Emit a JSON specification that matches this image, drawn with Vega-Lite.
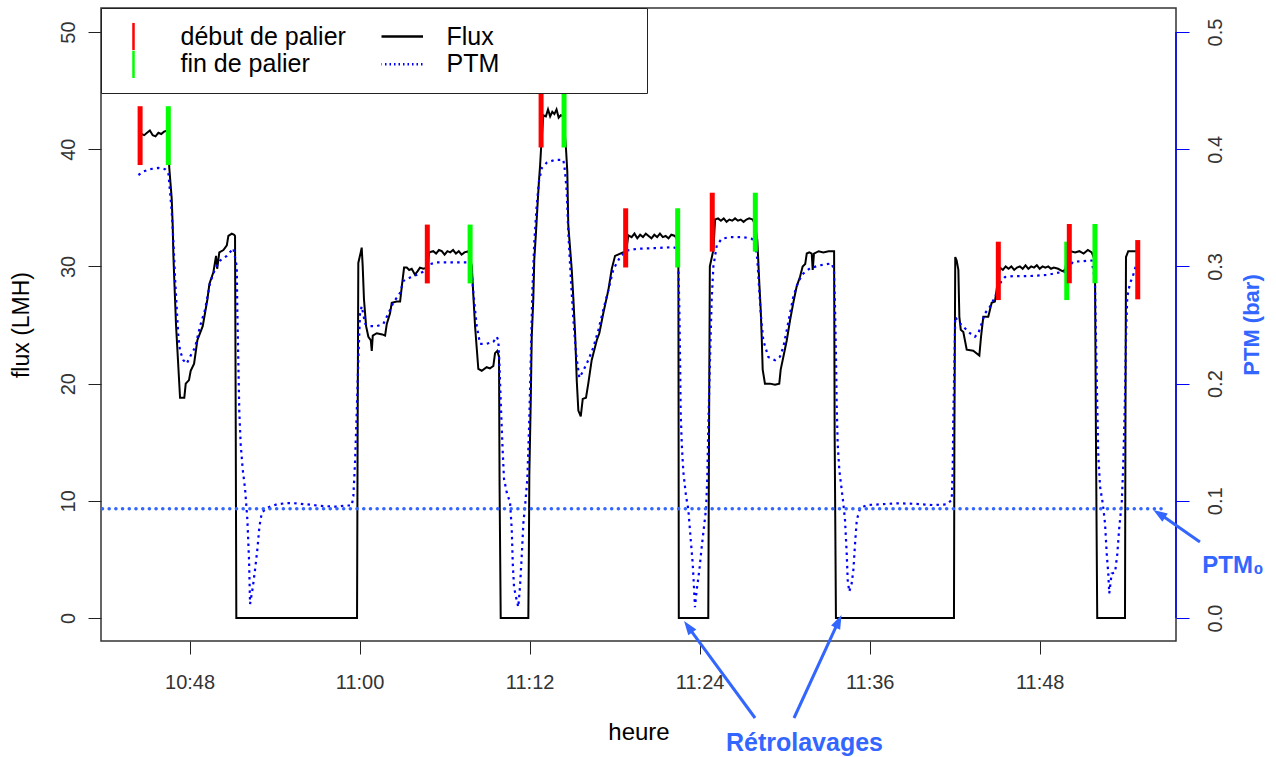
{
  "$schema": "https://vega.github.io/schema/vega-lite/v6.json",
  "width": 1075,
  "height": 633,
  "autosize": {"type": "none"},
  "padding": {"left": 101, "top": 8, "right": 100, "bottom": 116},
  "background": "white",
  "config": {
    "font": "Liberation Sans",
    "view": {"stroke": "#333", "strokeWidth": 1.5},
    "axis": {"grid": false},
    "legend": {
      "orient": "top-left",
      "offset": 0,
      "columns": 2,
      "fillColor": "white",
      "strokeColor": "#222",
      "padding": 14.5,
      "symbolSize": 2209,
      "symbolStrokeWidth": 2.5,
      "symbolOpacity": 1,
      "symbolOffset": -7,
      "labelFontSize": 25,
      "labelColor": "black",
      "labelOffset": 22,
      "labelLimit": 400,
      "columnPadding": 35,
      "rowPadding": 0,
      "clipHeight": 27.5,
      "titleOrient": "right",
      "titlePadding": 133,
      "titleFontSize": 22
    }
  },
  "datasets": {
    "one": [{"n": 1}],
    "note": [{"note": "Rétrolavages"}],
    "note0": [{"note": "PTM₀"}],
    "flux": [
      {"t": 44.60, "flux": 41.3}, {"t": 44.80, "flux": 41.2}, {"t": 45.00, "flux": 41.4}, {"t": 45.20, "flux": 41.6},
      {"t": 45.40, "flux": 41.2}, {"t": 45.60, "flux": 41.1}, {"t": 45.80, "flux": 41.4}, {"t": 46.00, "flux": 41.3},
      {"t": 46.20, "flux": 41.5}, {"t": 46.45, "flux": 41.6}, {"t": 46.57, "flux": 38.4}, {"t": 46.74, "flux": 35.8},
      {"t": 46.81, "flux": 33.5}, {"t": 46.86, "flux": 30.9}, {"t": 46.93, "flux": 28.6}, {"t": 47.05, "flux": 24.9},
      {"t": 47.21, "flux": 21.4}, {"t": 47.33, "flux": 18.8}, {"t": 47.63, "flux": 18.8}, {"t": 47.73, "flux": 20.0},
      {"t": 47.96, "flux": 20.3}, {"t": 48.08, "flux": 21.1}, {"t": 48.32, "flux": 21.7}, {"t": 48.55, "flux": 23.7},
      {"t": 48.93, "flux": 24.9}, {"t": 49.26, "flux": 27.2}, {"t": 49.40, "flux": 28.5}, {"t": 49.68, "flux": 29.5},
      {"t": 49.87, "flux": 30.9}, {"t": 49.95, "flux": 29.8}, {"t": 50.10, "flux": 31.2}, {"t": 50.39, "flux": 31.4},
      {"t": 50.63, "flux": 31.8}, {"t": 50.74, "flux": 32.6}, {"t": 50.98, "flux": 32.8}, {"t": 51.15, "flux": 32.7},
      {"t": 51.21, "flux": 32.6}, {"t": 51.26, "flux": 16.2}, {"t": 51.30, "flux": 0},
      {"t": 59.82, "flux": 0}, {"t": 59.86, "flux": 15.0}, {"t": 59.91, "flux": 30.3}, {"t": 60.08, "flux": 31.2},
      {"t": 60.15, "flux": 31.6}, {"t": 60.22, "flux": 30.0}, {"t": 60.31, "flux": 27.2}, {"t": 60.46, "flux": 24.9},
      {"t": 60.62, "flux": 24.0}, {"t": 60.79, "flux": 23.7}, {"t": 60.86, "flux": 22.8}, {"t": 60.93, "flux": 24.1},
      {"t": 61.21, "flux": 24.3}, {"t": 61.60, "flux": 24.2}, {"t": 61.80, "flux": 24.1}, {"t": 61.92, "flux": 25.1},
      {"t": 62.15, "flux": 26.0}, {"t": 62.27, "flux": 26.9}, {"t": 62.62, "flux": 27.0}, {"t": 62.86, "flux": 27.0},
      {"t": 62.98, "flux": 28.3}, {"t": 63.14, "flux": 29.9}, {"t": 63.33, "flux": 29.9}, {"t": 63.50, "flux": 29.7},
      {"t": 63.68, "flux": 29.8}, {"t": 63.91, "flux": 29.3}, {"t": 64.10, "flux": 29.6}, {"t": 64.26, "flux": 29.9},
      {"t": 64.50, "flux": 29.8}, {"t": 64.78, "flux": 29.9}, {"t": 64.92, "flux": 31.2}, {"t": 65.20, "flux": 31.3},
      {"t": 65.40, "flux": 31.1}, {"t": 65.60, "flux": 31.4}, {"t": 65.80, "flux": 31.3}, {"t": 66.00, "flux": 31.0},
      {"t": 66.20, "flux": 31.3}, {"t": 66.40, "flux": 31.2}, {"t": 66.60, "flux": 31.4}, {"t": 66.80, "flux": 31.1},
      {"t": 67.00, "flux": 31.3}, {"t": 67.20, "flux": 31.0}, {"t": 67.40, "flux": 31.2}, {"t": 67.68, "flux": 31.3},
      {"t": 67.92, "flux": 30.05}, {"t": 68.03, "flux": 27.5}, {"t": 68.15, "flux": 24.9}, {"t": 68.27, "flux": 23.0},
      {"t": 68.38, "flux": 21.25}, {"t": 68.62, "flux": 21.1}, {"t": 68.97, "flux": 21.4}, {"t": 69.20, "flux": 21.3},
      {"t": 69.44, "flux": 21.5}, {"t": 69.56, "flux": 22.6}, {"t": 69.72, "flux": 22.8}, {"t": 69.84, "flux": 22.3},
      {"t": 69.88, "flux": 11.3}, {"t": 69.96, "flux": 0},
      {"t": 71.91, "flux": 0}, {"t": 71.95, "flux": 6.1}, {"t": 71.98, "flux": 12.2}, {"t": 72.08, "flux": 18.5},
      {"t": 72.15, "flux": 24.0}, {"t": 72.26, "flux": 27.2}, {"t": 72.33, "flux": 30.6}, {"t": 72.45, "flux": 32.9},
      {"t": 72.57, "flux": 35.5}, {"t": 72.66, "flux": 37.3}, {"t": 72.74, "flux": 38.6}, {"t": 72.81, "flux": 40.1},
      {"t": 72.97, "flux": 42.9}, {"t": 73.15, "flux": 42.8}, {"t": 73.30, "flux": 43.4}, {"t": 73.45, "flux": 42.8},
      {"t": 73.60, "flux": 43.2}, {"t": 73.75, "flux": 43.0}, {"t": 73.90, "flux": 43.4}, {"t": 74.05, "flux": 42.7},
      {"t": 74.20, "flux": 42.9}, {"t": 74.40, "flux": 42.8}, {"t": 74.57, "flux": 40.0}, {"t": 74.66, "flux": 38.1},
      {"t": 74.73, "flux": 33.5}, {"t": 74.97, "flux": 29.8}, {"t": 75.09, "flux": 27.2}, {"t": 75.21, "flux": 24.3},
      {"t": 75.33, "flux": 20.2}, {"t": 75.44, "flux": 17.7}, {"t": 75.61, "flux": 17.2}, {"t": 75.75, "flux": 18.7},
      {"t": 75.98, "flux": 18.8}, {"t": 76.14, "flux": 20.0}, {"t": 76.38, "flux": 22.0}, {"t": 76.74, "flux": 23.7},
      {"t": 76.92, "flux": 24.3}, {"t": 77.20, "flux": 26.0}, {"t": 77.56, "flux": 28.0}, {"t": 77.80, "flux": 29.8},
      {"t": 78.03, "flux": 30.9}, {"t": 78.61, "flux": 31.2}, {"t": 78.80, "flux": 31.2}, {"t": 78.97, "flux": 32.65},
      {"t": 79.20, "flux": 32.5}, {"t": 79.40, "flux": 32.8}, {"t": 79.60, "flux": 32.4}, {"t": 79.80, "flux": 32.7},
      {"t": 80.00, "flux": 32.5}, {"t": 80.20, "flux": 32.8}, {"t": 80.40, "flux": 32.6}, {"t": 80.60, "flux": 32.4},
      {"t": 80.80, "flux": 32.7}, {"t": 81.00, "flux": 32.5}, {"t": 81.20, "flux": 32.8}, {"t": 81.40, "flux": 32.5},
      {"t": 81.60, "flux": 32.6}, {"t": 81.80, "flux": 32.4}, {"t": 82.00, "flux": 32.7}, {"t": 82.26, "flux": 32.6},
      {"t": 82.45, "flux": 32.2}, {"t": 82.50, "flux": 30.0}, {"t": 82.53, "flux": 0},
      {"t": 84.61, "flux": 0}, {"t": 84.66, "flux": 15.0}, {"t": 84.72, "flux": 30.0}, {"t": 84.97, "flux": 31.4},
      {"t": 85.09, "flux": 34.0}, {"t": 85.30, "flux": 34.1}, {"t": 85.50, "flux": 33.9}, {"t": 85.70, "flux": 34.1},
      {"t": 85.90, "flux": 33.8}, {"t": 86.10, "flux": 34.0}, {"t": 86.30, "flux": 33.9}, {"t": 86.50, "flux": 34.1},
      {"t": 86.70, "flux": 33.9}, {"t": 86.90, "flux": 34.0}, {"t": 87.10, "flux": 33.8}, {"t": 87.30, "flux": 34.0},
      {"t": 87.50, "flux": 34.1}, {"t": 87.75, "flux": 34.0}, {"t": 87.93, "flux": 33.5}, {"t": 88.07, "flux": 32.25},
      {"t": 88.21, "flux": 28.6}, {"t": 88.31, "flux": 26.3}, {"t": 88.38, "flux": 24.0}, {"t": 88.45, "flux": 21.2},
      {"t": 88.61, "flux": 20.0}, {"t": 88.97, "flux": 20.0}, {"t": 89.32, "flux": 19.9}, {"t": 89.62, "flux": 20.0},
      {"t": 89.72, "flux": 21.2}, {"t": 89.91, "flux": 22.3}, {"t": 90.15, "flux": 23.7}, {"t": 90.38, "flux": 25.4},
      {"t": 90.61, "flux": 26.9}, {"t": 90.85, "flux": 28.3}, {"t": 91.08, "flux": 29.1}, {"t": 91.27, "flux": 30.0},
      {"t": 91.45, "flux": 30.2}, {"t": 91.56, "flux": 31.1}, {"t": 91.74, "flux": 31.2}, {"t": 91.91, "flux": 31.1},
      {"t": 91.98, "flux": 29.7}, {"t": 92.07, "flux": 31.1}, {"t": 92.40, "flux": 31.3}, {"t": 92.73, "flux": 31.2},
      {"t": 93.10, "flux": 31.3}, {"t": 93.49, "flux": 31.3}, {"t": 93.53, "flux": 15.5}, {"t": 93.62, "flux": 0},
      {"t": 101.95, "flux": 0}, {"t": 101.98, "flux": 15.5}, {"t": 102.04, "flux": 30.8}, {"t": 102.14, "flux": 30.5},
      {"t": 102.26, "flux": 29.7}, {"t": 102.33, "flux": 25.7}, {"t": 102.43, "flux": 24.6}, {"t": 102.61, "flux": 24.4},
      {"t": 102.85, "flux": 22.9}, {"t": 103.31, "flux": 22.8}, {"t": 103.74, "flux": 22.4}, {"t": 103.86, "flux": 24.0},
      {"t": 104.02, "flux": 25.7}, {"t": 104.37, "flux": 25.7}, {"t": 104.61, "flux": 26.9}, {"t": 104.84, "flux": 27.0},
      {"t": 104.96, "flux": 28.0}, {"t": 105.10, "flux": 29.3}, {"t": 105.20, "flux": 29.9}, {"t": 105.40, "flux": 29.7},
      {"t": 105.60, "flux": 30.0}, {"t": 105.80, "flux": 29.8}, {"t": 106.00, "flux": 30.0}, {"t": 106.20, "flux": 29.7},
      {"t": 106.40, "flux": 29.9}, {"t": 106.60, "flux": 30.0}, {"t": 106.80, "flux": 29.8}, {"t": 107.00, "flux": 30.1},
      {"t": 107.20, "flux": 29.8}, {"t": 107.40, "flux": 30.0}, {"t": 107.60, "flux": 29.9}, {"t": 107.80, "flux": 30.1},
      {"t": 108.00, "flux": 29.8}, {"t": 108.20, "flux": 30.0}, {"t": 108.40, "flux": 29.9}, {"t": 108.60, "flux": 30.0},
      {"t": 108.80, "flux": 29.8}, {"t": 109.00, "flux": 29.9}, {"t": 109.30, "flux": 29.8}, {"t": 109.60, "flux": 29.6},
      {"t": 109.80, "flux": 29.7}, {"t": 110.00, "flux": 31.2}, {"t": 110.20, "flux": 31.3}, {"t": 110.50, "flux": 31.2},
      {"t": 110.80, "flux": 31.3}, {"t": 111.10, "flux": 31.1}, {"t": 111.40, "flux": 31.4}, {"t": 111.67, "flux": 31.2},
      {"t": 111.90, "flux": 30.5}, {"t": 111.97, "flux": 15.5}, {"t": 112.06, "flux": 0},
      {"t": 114.02, "flux": 0}, {"t": 114.05, "flux": 15.5}, {"t": 114.09, "flux": 30.8}, {"t": 114.25, "flux": 31.3},
      {"t": 114.80, "flux": 31.3}
    ],
    "ptm": [
      {"t": 44.39, "ptm": 0.378}, {"t": 44.74, "ptm": 0.381}, {"t": 45.21, "ptm": 0.383}, {"t": 45.80, "ptm": 0.384},
      {"t": 46.27, "ptm": 0.383}, {"t": 46.50, "ptm": 0.380}, {"t": 46.62, "ptm": 0.364}, {"t": 46.74, "ptm": 0.347},
      {"t": 46.86, "ptm": 0.321}, {"t": 46.98, "ptm": 0.289}, {"t": 47.10, "ptm": 0.263}, {"t": 47.21, "ptm": 0.240},
      {"t": 47.33, "ptm": 0.228}, {"t": 47.56, "ptm": 0.220}, {"t": 47.80, "ptm": 0.217}, {"t": 48.04, "ptm": 0.223},
      {"t": 48.39, "ptm": 0.231}, {"t": 48.74, "ptm": 0.249}, {"t": 49.09, "ptm": 0.263}, {"t": 49.45, "ptm": 0.286},
      {"t": 49.80, "ptm": 0.298}, {"t": 50.15, "ptm": 0.305}, {"t": 50.63, "ptm": 0.309}, {"t": 51.09, "ptm": 0.3155},
      {"t": 51.33, "ptm": 0.300}, {"t": 51.37, "ptm": 0.263}, {"t": 51.44, "ptm": 0.220}, {"t": 51.51, "ptm": 0.176},
      {"t": 51.61, "ptm": 0.148}, {"t": 51.75, "ptm": 0.127}, {"t": 51.92, "ptm": 0.110}, {"t": 52.08, "ptm": 0.084},
      {"t": 52.20, "ptm": 0.049}, {"t": 52.27, "ptm": 0.012}, {"t": 52.46, "ptm": 0.026}, {"t": 52.62, "ptm": 0.041},
      {"t": 52.78, "ptm": 0.058}, {"t": 52.93, "ptm": 0.078}, {"t": 53.10, "ptm": 0.090}, {"t": 53.45, "ptm": 0.094},
      {"t": 54.15, "ptm": 0.097}, {"t": 54.80, "ptm": 0.098}, {"t": 55.33, "ptm": 0.098}, {"t": 56.27, "ptm": 0.097},
      {"t": 57.21, "ptm": 0.0957}, {"t": 58.39, "ptm": 0.095}, {"t": 58.97, "ptm": 0.096}, {"t": 59.45, "ptm": 0.096},
      {"t": 59.56, "ptm": 0.104}, {"t": 59.68, "ptm": 0.133}, {"t": 59.80, "ptm": 0.176}, {"t": 59.91, "ptm": 0.220},
      {"t": 60.03, "ptm": 0.260}, {"t": 60.15, "ptm": 0.266}, {"t": 60.39, "ptm": 0.251}, {"t": 60.74, "ptm": 0.249},
      {"t": 61.21, "ptm": 0.249}, {"t": 61.68, "ptm": 0.251}, {"t": 62.03, "ptm": 0.260}, {"t": 62.38, "ptm": 0.269},
      {"t": 62.86, "ptm": 0.2775}, {"t": 63.09, "ptm": 0.2876}, {"t": 63.56, "ptm": 0.2905}, {"t": 64.15, "ptm": 0.2934},
      {"t": 64.62, "ptm": 0.2962}, {"t": 64.97, "ptm": 0.302}, {"t": 65.45, "ptm": 0.3034}, {"t": 66.62, "ptm": 0.3034},
      {"t": 67.68, "ptm": 0.3034}, {"t": 67.92, "ptm": 0.2947}, {"t": 68.03, "ptm": 0.2775}, {"t": 68.15, "ptm": 0.263},
      {"t": 68.27, "ptm": 0.249}, {"t": 68.50, "ptm": 0.234}, {"t": 68.97, "ptm": 0.234}, {"t": 69.44, "ptm": 0.2356},
      {"t": 69.68, "ptm": 0.240}, {"t": 69.79, "ptm": 0.237}, {"t": 69.86, "ptm": 0.220}, {"t": 69.96, "ptm": 0.185},
      {"t": 70.08, "ptm": 0.148}, {"t": 70.19, "ptm": 0.119}, {"t": 70.39, "ptm": 0.107}, {"t": 70.62, "ptm": 0.0986},
      {"t": 70.74, "ptm": 0.0755}, {"t": 70.81, "ptm": 0.0467}, {"t": 70.90, "ptm": 0.0264}, {"t": 71.04, "ptm": 0.018},
      {"t": 71.20, "ptm": 0.0094}, {"t": 71.32, "ptm": 0.0264}, {"t": 71.44, "ptm": 0.052}, {"t": 71.56, "ptm": 0.081},
      {"t": 71.68, "ptm": 0.0957}, {"t": 71.84, "ptm": 0.119}, {"t": 71.96, "ptm": 0.162}, {"t": 72.08, "ptm": 0.220},
      {"t": 72.19, "ptm": 0.2775}, {"t": 72.33, "ptm": 0.321}, {"t": 72.50, "ptm": 0.352}, {"t": 72.66, "ptm": 0.3726},
      {"t": 72.86, "ptm": 0.384}, {"t": 73.21, "ptm": 0.3885}, {"t": 73.79, "ptm": 0.391}, {"t": 74.38, "ptm": 0.391},
      {"t": 74.50, "ptm": 0.381}, {"t": 74.62, "ptm": 0.364}, {"t": 74.73, "ptm": 0.329}, {"t": 74.90, "ptm": 0.292},
      {"t": 75.09, "ptm": 0.254}, {"t": 75.28, "ptm": 0.2255}, {"t": 75.51, "ptm": 0.205}, {"t": 75.79, "ptm": 0.211},
      {"t": 76.14, "ptm": 0.220}, {"t": 76.50, "ptm": 0.231}, {"t": 76.85, "ptm": 0.2457}, {"t": 77.20, "ptm": 0.263},
      {"t": 77.56, "ptm": 0.280}, {"t": 77.91, "ptm": 0.2976}, {"t": 78.38, "ptm": 0.3078}, {"t": 78.85, "ptm": 0.3135},
      {"t": 79.56, "ptm": 0.315}, {"t": 80.85, "ptm": 0.3157}, {"t": 82.14, "ptm": 0.3164}, {"t": 82.43, "ptm": 0.3150},
      {"t": 82.50, "ptm": 0.300}, {"t": 82.57, "ptm": 0.263}, {"t": 82.62, "ptm": 0.220}, {"t": 82.66, "ptm": 0.1765},
      {"t": 82.74, "ptm": 0.148}, {"t": 82.85, "ptm": 0.1246}, {"t": 83.04, "ptm": 0.104}, {"t": 83.20, "ptm": 0.0928},
      {"t": 83.37, "ptm": 0.067}, {"t": 83.51, "ptm": 0.0467}, {"t": 83.60, "ptm": 0.0264}, {"t": 83.67, "ptm": 0.0092},
      {"t": 83.79, "ptm": 0.0236}, {"t": 83.98, "ptm": 0.041}, {"t": 84.15, "ptm": 0.061}, {"t": 84.31, "ptm": 0.078},
      {"t": 84.45, "ptm": 0.0928}, {"t": 84.54, "ptm": 0.119}, {"t": 84.61, "ptm": 0.162}, {"t": 84.73, "ptm": 0.220},
      {"t": 84.85, "ptm": 0.2717}, {"t": 84.97, "ptm": 0.300}, {"t": 85.21, "ptm": 0.318}, {"t": 85.56, "ptm": 0.3236},
      {"t": 86.14, "ptm": 0.325}, {"t": 87.08, "ptm": 0.325}, {"t": 87.68, "ptm": 0.3236}, {"t": 87.91, "ptm": 0.3207},
      {"t": 88.07, "ptm": 0.306}, {"t": 88.19, "ptm": 0.283}, {"t": 88.31, "ptm": 0.260}, {"t": 88.49, "ptm": 0.237},
      {"t": 88.85, "ptm": 0.2227}, {"t": 89.32, "ptm": 0.220}, {"t": 89.67, "ptm": 0.223}, {"t": 89.91, "ptm": 0.2315},
      {"t": 90.15, "ptm": 0.2457}, {"t": 90.38, "ptm": 0.260}, {"t": 90.61, "ptm": 0.274}, {"t": 90.96, "ptm": 0.287},
      {"t": 91.32, "ptm": 0.294}, {"t": 91.79, "ptm": 0.2984}, {"t": 92.50, "ptm": 0.301}, {"t": 93.32, "ptm": 0.3026},
      {"t": 93.48, "ptm": 0.297}, {"t": 93.55, "ptm": 0.2685}, {"t": 93.62, "ptm": 0.2258}, {"t": 93.67, "ptm": 0.183},
      {"t": 93.74, "ptm": 0.149}, {"t": 93.86, "ptm": 0.126}, {"t": 94.03, "ptm": 0.109}, {"t": 94.14, "ptm": 0.0979},
      {"t": 94.26, "ptm": 0.0836}, {"t": 94.38, "ptm": 0.055}, {"t": 94.45, "ptm": 0.0324}, {"t": 94.56, "ptm": 0.0225},
      {"t": 94.73, "ptm": 0.0296}, {"t": 94.85, "ptm": 0.041}, {"t": 94.97, "ptm": 0.0637}, {"t": 95.09, "ptm": 0.0836},
      {"t": 95.32, "ptm": 0.0936}, {"t": 95.79, "ptm": 0.0964}, {"t": 96.73, "ptm": 0.097}, {"t": 97.91, "ptm": 0.0979},
      {"t": 99.08, "ptm": 0.0975}, {"t": 100.49, "ptm": 0.0964}, {"t": 101.44, "ptm": 0.097}, {"t": 101.79, "ptm": 0.1007},
      {"t": 101.86, "ptm": 0.126}, {"t": 101.90, "ptm": 0.169}, {"t": 101.97, "ptm": 0.2116}, {"t": 102.04, "ptm": 0.257},
      {"t": 102.18, "ptm": 0.254}, {"t": 102.61, "ptm": 0.2486}, {"t": 103.08, "ptm": 0.243}, {"t": 103.43, "ptm": 0.240},
      {"t": 103.67, "ptm": 0.243}, {"t": 103.91, "ptm": 0.2515}, {"t": 104.14, "ptm": 0.260}, {"t": 104.49, "ptm": 0.2656},
      {"t": 104.85, "ptm": 0.274}, {"t": 105.20, "ptm": 0.2856}, {"t": 105.55, "ptm": 0.291}, {"t": 106.14, "ptm": 0.2918},
      {"t": 107.32, "ptm": 0.2918}, {"t": 108.49, "ptm": 0.2927}, {"t": 109.67, "ptm": 0.2955}, {"t": 109.91, "ptm": 0.2945},
      {"t": 110.14, "ptm": 0.301}, {"t": 110.37, "ptm": 0.304}, {"t": 111.67, "ptm": 0.305}, {"t": 111.90, "ptm": 0.288},
      {"t": 111.97, "ptm": 0.240}, {"t": 112.06, "ptm": 0.183}, {"t": 112.13, "ptm": 0.1405}, {"t": 112.26, "ptm": 0.112},
      {"t": 112.45, "ptm": 0.0979}, {"t": 112.61, "ptm": 0.0808}, {"t": 112.73, "ptm": 0.055}, {"t": 112.84, "ptm": 0.038},
      {"t": 112.91, "ptm": 0.021}, {"t": 113.08, "ptm": 0.038}, {"t": 113.32, "ptm": 0.039}, {"t": 113.48, "ptm": 0.055},
      {"t": 113.62, "ptm": 0.078}, {"t": 113.79, "ptm": 0.0979}, {"t": 113.90, "ptm": 0.132}, {"t": 114.02, "ptm": 0.189},
      {"t": 114.09, "ptm": 0.240}, {"t": 114.18, "ptm": 0.274}, {"t": 114.37, "ptm": 0.2856}, {"t": 114.56, "ptm": 0.291},
      {"t": 114.80, "ptm": 0.301}
    ],
    "ptm0": [
      {"t": 41.85, "ptm": 0.0932},
      {"t": 116.80, "ptm": 0.0932}
    ],
    "ticks": [
      {"t": 44.51, "lo": 38.65, "hi": 43.67, "type": "début de palier"},
      {"t": 46.50, "lo": 38.65, "hi": 43.67, "type": "fin de palier"},
      {"t": 64.78, "lo": 28.55, "hi": 33.57, "type": "début de palier"},
      {"t": 67.80, "lo": 28.55, "hi": 33.57, "type": "fin de palier"},
      {"t": 72.81, "lo": 40.15, "hi": 45.2, "type": "début de palier"},
      {"t": 74.43, "lo": 40.15, "hi": 45.2, "type": "fin de palier"},
      {"t": 78.78, "lo": 29.91, "hi": 34.96, "type": "début de palier"},
      {"t": 82.45, "lo": 29.91, "hi": 34.96, "type": "fin de palier"},
      {"t": 84.89, "lo": 31.26, "hi": 36.29, "type": "début de palier"},
      {"t": 87.93, "lo": 31.26, "hi": 36.29, "type": "fin de palier"},
      {"t": 105.08, "lo": 27.13, "hi": 32.11, "type": "début de palier"},
      {"t": 109.91, "lo": 27.13, "hi": 32.11, "type": "fin de palier"},
      {"t": 110.09, "lo": 28.56, "hi": 33.62, "type": "début de palier"},
      {"t": 111.90, "lo": 28.56, "hi": 33.62, "type": "fin de palier"},
      {"t": 114.92, "lo": 27.19, "hi": 32.25, "type": "début de palier"}
    ]
  },
  "layer": [
    {
      "layer": [
        {
          "data": {"name": "flux"},
          "mark": {"type": "line", "strokeWidth": 2},
          "encoding": {
            "x": {
              "field": "t",
              "type": "quantitative",
              "scale": {"domain": [41.75, 117.62], "nice": false, "zero": false},
              "axis": {
                "values": [48, 60, 72, 84, 96, 108],
                "labelExpr": "format(10 + floor(datum.value / 60), 'd') + ':' + format(datum.value % 60, '02d')",
                "domain": false,
                "tickSize": 13,
                "tickColor": "#222",
                "labelPadding": 18,
                "labelFontSize": 20,
                "labelColor": "#333",
                "title": "heure",
                "titleFontSize": 24,
                "titleFontWeight": "normal",
                "titleColor": "black",
                "titlePadding": 28
              }
            },
            "y": {
              "field": "flux",
              "type": "quantitative",
              "scale": {"domain": [-1.96, 52.05], "nice": false, "zero": false},
              "axis": {
                "orient": "left",
                "values": [0, 10, 20, 30, 40, 50],
                "domain": false,
                "tickSize": 13,
                "tickColor": "#222",
                "labelAngle": 270,
                "labelAlign": "center",
                "labelBaseline": "bottom",
                "labelPadding": 10,
                "labelFontSize": 20,
                "labelColor": "#333",
                "title": "flux (LMH)",
                "titleFontSize": 23,
                "titleFontWeight": "normal",
                "titleColor": "black",
                "titlePadding": 25
              }
            },
            "color": {
              "datum": "Flux",
              "type": "nominal",
              "scale": {"domain": ["début de palier", "fin de palier", "Flux", "PTM"], "range": ["#FF0000", "#00FF00", "#000000", "#0000FF"]},
              "legend": {
                "title": " ",
                "symbolType": {"expr": "datum.value === 'Flux' || datum.value === 'PTM' ? 'M-1,0L1,0' : 'M0,-0.58L0,0.58'"},
                "symbolDash": {"expr": "datum.value === 'PTM' ? [1.5, 3] : [1, 0]"}
              }
            }
          }
        }
      ]
    },
    {
      "layer": [
        {
          "data": {"name": "ptm"},
          "mark": {"type": "line", "strokeWidth": 2.2, "strokeDash": [2.5, 4.2]},
          "encoding": {
            "x": {"field": "t", "type": "quantitative", "scale": {"domain": [41.75, 117.62], "nice": false, "zero": false}},
            "y": {
              "field": "ptm",
              "type": "quantitative",
              "scale": {"domain": [-0.0196, 0.5205], "nice": false, "zero": false},
              "axis": {
                "orient": "right",
                "values": [0, 0.1, 0.2, 0.3, 0.4, 0.5],
                "format": ".1f",
                "domain": false,
                "tickSize": 13,
                "tickColor": "#0000FF",
                "labelAngle": 270,
                "labelAlign": "center",
                "labelBaseline": "top",
                "labelPadding": 16,
                "labelFontSize": 20,
                "labelColor": "#333",
                "title": "PTM (bar)",
                "titleAngle": 270,
                "titleBaseline": "top",
                "titleFontSize": 22,
                "titleFontWeight": "bold",
                "titleColor": "#3366FF",
                "titlePadding": 16
              }
            },
            "color": {
              "datum": "PTM",
              "type": "nominal",
              "scale": {"domain": ["début de palier", "fin de palier", "Flux", "PTM"], "range": ["#FF0000", "#00FF00", "#000000", "#0000FF"]},
              "legend": {
                "title": " ",
                "symbolType": {"expr": "datum.value === 'Flux' || datum.value === 'PTM' ? 'M-1,0L1,0' : 'M0,-0.58L0,0.58'"},
                "symbolDash": {"expr": "datum.value === 'PTM' ? [1.5, 3] : [1, 0]"}
              }
            }
          }
        },
        {
          "data": {"name": "ptm0"},
          "mark": {"type": "line", "color": "#3366FF", "strokeWidth": 3.5, "strokeDash": [0.1, 6.6], "strokeCap": "round"},
          "encoding": {
            "x": {"field": "t", "type": "quantitative", "scale": {"domain": [41.75, 117.62], "nice": false, "zero": false}},
            "y": {"field": "ptm", "type": "quantitative", "scale": {"domain": [-0.0196, 0.5205], "nice": false, "zero": false}}
          }
        },
        {
          "data": {"name": "one"},
          "mark": {"type": "rule", "color": "#0000FF", "strokeWidth": 1.5, "clip": false},
          "encoding": {
            "x": {"datum": 117.62, "type": "quantitative", "scale": {"domain": [41.75, 117.62], "nice": false, "zero": false}},
            "y": {"datum": 0, "type": "quantitative", "scale": {"domain": [-0.0196, 0.5205], "nice": false, "zero": false}},
            "y2": {"datum": 0.5}
          }
        },
        {
          "data": {"name": "one"},
          "mark": {"type": "rule", "color": "#3366FF", "strokeWidth": 3, "clip": false},
          "encoding": {
            "x": {"datum": 119.31, "type": "quantitative", "scale": {"domain": [41.75, 117.62], "nice": false, "zero": false}},
            "y": {"datum": 0.0648, "type": "quantitative", "scale": {"domain": [-0.0196, 0.5205], "nice": false, "zero": false}},
            "x2": {"datum": 116.38},
            "y2": {"datum": 0.0896}
          }
        },
        {
          "data": {"name": "one"},
          "mark": {"type": "point", "shape": "M0,0L-0.5,1.4L0.5,1.4Z", "filled": true, "size": 400, "opacity": 1, "color": "#3366FF", "angle": 303, "clip": false},
          "encoding": {
            "x": {"datum": 116.02, "type": "quantitative", "scale": {"domain": [41.75, 117.62], "nice": false, "zero": false}},
            "y": {"datum": 0.0922, "type": "quantitative", "scale": {"domain": [-0.0196, 0.5205], "nice": false, "zero": false}}
          }
        },
        {
          "data": {"name": "note0"},
          "mark": {"type": "text", "font": "Liberation Sans", "fontSize": 24, "fontWeight": "bold", "color": "#3366FF", "align": "center", "baseline": "middle", "clip": false},
          "encoding": {
            "x": {"datum": 121.64, "type": "quantitative", "scale": {"domain": [41.75, 117.62], "nice": false, "zero": false}},
            "y": {"datum": 0.0444, "type": "quantitative", "scale": {"domain": [-0.0196, 0.5205], "nice": false, "zero": false}},
            "text": {"field": "note"}
          }
        }
      ]
    },
    {
      "layer": [
        {
          "data": {"name": "ticks"},
          "mark": {"type": "rule", "strokeWidth": 5},
          "encoding": {
            "x": {"field": "t", "type": "quantitative", "scale": {"domain": [41.75, 117.62], "nice": false, "zero": false}},
            "y": {
              "field": "lo",
              "type": "quantitative",
              "scale": {"domain": [-1.96, 52.05], "nice": false, "zero": false},
              "axis": null
            },
            "y2": {"field": "hi"},
            "color": {
              "field": "type",
              "type": "nominal",
              "scale": {"domain": ["début de palier", "fin de palier", "Flux", "PTM"], "range": ["#FF0000", "#00FF00", "#000000", "#0000FF"]},
              "legend": {
                "title": " ",
                "symbolType": {"expr": "datum.value === 'Flux' || datum.value === 'PTM' ? 'M-1,0L1,0' : 'M0,-0.58L0,0.58'"},
                "symbolDash": {"expr": "datum.value === 'PTM' ? [1.5, 3] : [1, 0]"}
              }
            }
          }
        },
        {
          "data": {"name": "one"},
          "mark": {"type": "rule", "color": "#3366FF", "strokeWidth": 3, "clip": false},
          "encoding": {
            "x": {"datum": 87.91, "type": "quantitative", "scale": {"domain": [41.75, 117.62], "nice": false, "zero": false}},
            "y": {"datum": -8.53, "type": "quantitative", "scale": {"domain": [-1.96, 52.05], "nice": false, "zero": false}},
            "x2": {"datum": 83.14},
            "y2": {"datum": -0.67}
          }
        },
        {
          "data": {"name": "one"},
          "mark": {"type": "rule", "color": "#3366FF", "strokeWidth": 3, "clip": false},
          "encoding": {
            "x": {"datum": 90.66, "type": "quantitative", "scale": {"domain": [41.75, 117.62], "nice": false, "zero": false}},
            "y": {"datum": -8.53, "type": "quantitative", "scale": {"domain": [-1.96, 52.05], "nice": false, "zero": false}},
            "x2": {"datum": 93.83},
            "y2": {"datum": -0.2}
          }
        },
        {
          "data": {"name": "one"},
          "mark": {"type": "point", "shape": "M0,0L-0.5,1.4L0.5,1.4Z", "filled": true, "size": 400, "opacity": 1, "color": "#3366FF", "angle": 323.8, "clip": false},
          "encoding": {
            "x": {"datum": 82.90, "type": "quantitative", "scale": {"domain": [41.75, 117.62], "nice": false, "zero": false}},
            "y": {"datum": -0.26, "type": "quantitative", "scale": {"domain": [-1.96, 52.05], "nice": false, "zero": false}}
          }
        },
        {
          "data": {"name": "one"},
          "mark": {"type": "point", "shape": "M0,0L-0.5,1.4L0.5,1.4Z", "filled": true, "size": 400, "opacity": 1, "color": "#3366FF", "angle": 24.7, "clip": false},
          "encoding": {
            "x": {"datum": 94.01, "type": "quantitative", "scale": {"domain": [41.75, 117.62], "nice": false, "zero": false}},
            "y": {"datum": 0.26, "type": "quantitative", "scale": {"domain": [-1.96, 52.05], "nice": false, "zero": false}}
          }
        },
        {
          "data": {"name": "note"},
          "mark": {"type": "text", "font": "Liberation Sans", "fontSize": 25, "fontWeight": "bold", "color": "#3366FF", "align": "center", "baseline": "middle", "clip": false},
          "encoding": {
            "x": {"datum": 91.40, "type": "quantitative", "scale": {"domain": [41.75, 117.62], "nice": false, "zero": false}},
            "y": {"datum": -10.67, "type": "quantitative", "scale": {"domain": [-1.96, 52.05], "nice": false, "zero": false}},
            "text": {"field": "note"}
          }
        }
      ]
    }
  ],
  "resolve": {"scale": {"y": "independent"}}
}
